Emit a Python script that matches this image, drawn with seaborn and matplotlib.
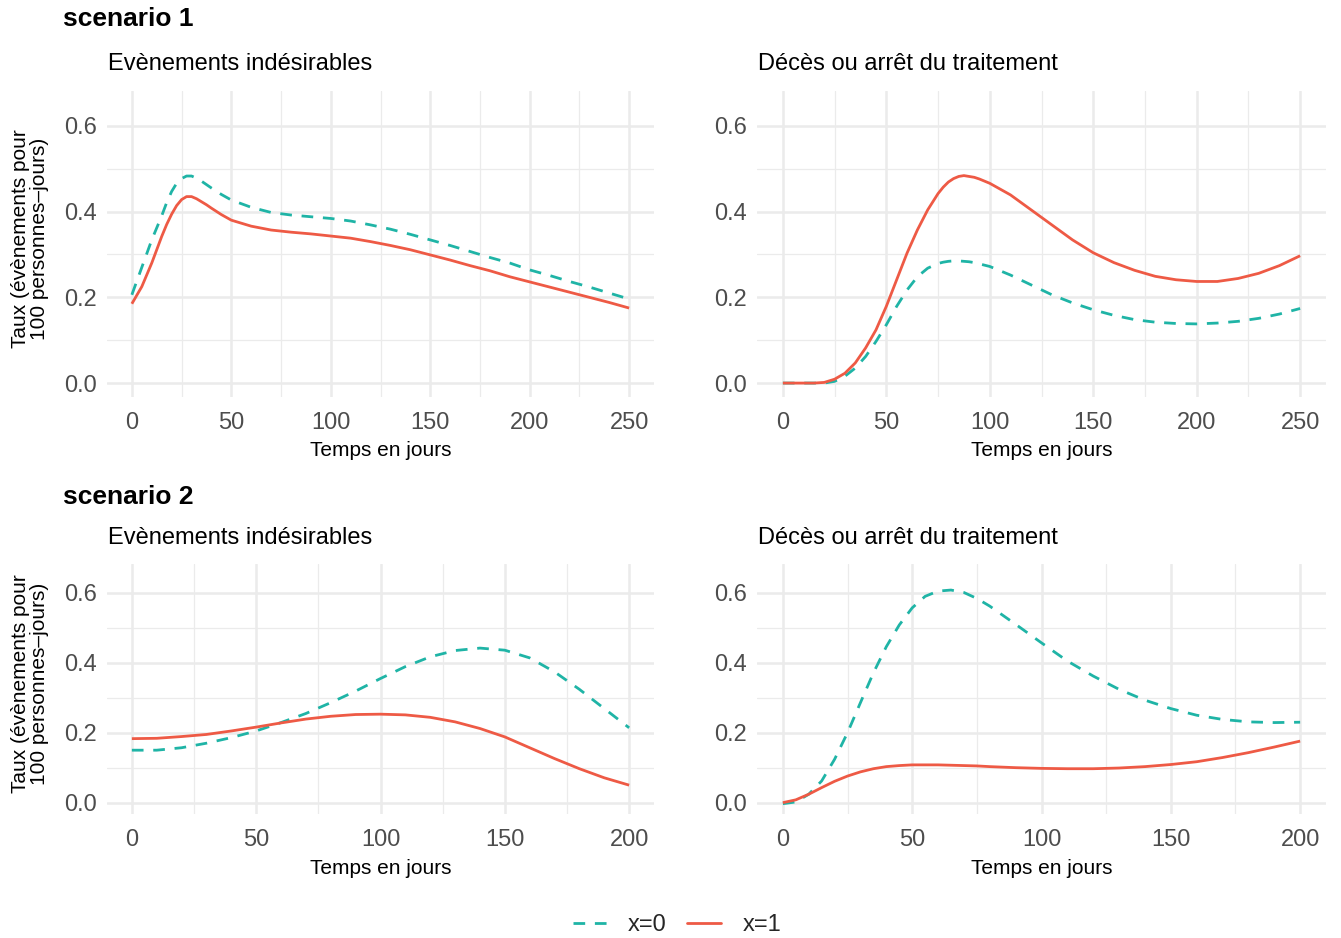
import numpy as np
import pandas as pd
import matplotlib
matplotlib.use("Agg")
import matplotlib.pyplot as plt
from matplotlib.lines import Line2D
from matplotlib.ticker import MultipleLocator
import seaborn as sns

# ---------------- data ----------------
# Scenario 1 - Evènements indésirables
t_s1_ae = [0, 5, 10, 15, 17.5, 20, 22.5, 25, 27.5, 30, 32.5, 35, 37.5, 40, 45, 50, 60,
           70, 80, 90, 100, 110, 120, 130, 140, 150, 160, 170, 180, 190, 200, 210, 220,
           230, 240, 250]
s1_ae_x0 = [0.206, 0.270, 0.334, 0.390, 0.421, 0.447, 0.466, 0.477, 0.483, 0.483, 0.478,
            0.471, 0.463, 0.455, 0.440, 0.427, 0.410, 0.398, 0.392, 0.388, 0.384, 0.378,
            0.369, 0.359, 0.347, 0.334, 0.321, 0.307, 0.293, 0.280, 0.264, 0.251, 0.237,
            0.224, 0.210, 0.196]
s1_ae_x1 = [0.185, 0.225, 0.280, 0.342, 0.370, 0.394, 0.414, 0.428, 0.435, 0.435, 0.430,
            0.423, 0.416, 0.408, 0.393, 0.380, 0.366, 0.357, 0.352, 0.348, 0.343, 0.338,
            0.330, 0.321, 0.311, 0.299, 0.287, 0.274, 0.262, 0.248, 0.236, 0.224, 0.212,
            0.200, 0.188, 0.175]

# Scenario 1 - Décès ou arrêt du traitement
t_s1_dc = [0, 5, 10, 15, 20, 25, 30, 35, 40, 45, 50, 55, 60, 65, 70, 75, 77.5, 80, 82.5,
           85, 87.5, 90, 92.5, 95, 97.5, 100, 110, 120, 130, 140, 150, 160, 170, 180,
           190, 200, 210, 220, 230, 240, 250]
s1_dc_x0 = [0.0, 0.0, 0.0, 0.0, 0.0, 0.004, 0.016, 0.035, 0.062, 0.097, 0.136, 0.179,
            0.217, 0.248, 0.268, 0.279, 0.282, 0.284, 0.285, 0.285, 0.284, 0.283, 0.281,
            0.278, 0.275, 0.272, 0.252, 0.229, 0.206, 0.187, 0.171, 0.158, 0.148, 0.142,
            0.139, 0.138, 0.140, 0.144, 0.151, 0.161, 0.174]
s1_dc_x1 = [0.0, 0.0, 0.0, 0.0, 0.0015, 0.009, 0.023, 0.047, 0.082, 0.124, 0.179, 0.241,
            0.303, 0.357, 0.404, 0.442, 0.457, 0.469, 0.477, 0.482, 0.484, 0.482, 0.480,
            0.476, 0.471, 0.466, 0.439, 0.404, 0.369, 0.334, 0.304, 0.281, 0.263, 0.249,
            0.241, 0.237, 0.237, 0.244, 0.256, 0.274, 0.297]

# Scenario 2 - Evènements indésirables
t_s2_ae = [0, 10, 20, 30, 40, 50, 60, 70, 80, 90, 100, 110, 120, 130, 140, 150, 160,
           170, 180, 190, 200]
s2_ae_x0 = [0.150, 0.150, 0.157, 0.170, 0.186, 0.205, 0.229, 0.255, 0.286, 0.319, 0.355,
            0.389, 0.417, 0.435, 0.442, 0.436, 0.414, 0.374, 0.324, 0.269, 0.214]
s2_ae_x1 = [0.183, 0.184, 0.189, 0.195, 0.205, 0.216, 0.228, 0.239, 0.247, 0.252, 0.253,
            0.251, 0.244, 0.231, 0.212, 0.188, 0.157, 0.126, 0.097, 0.071, 0.050]

# Scenario 2 - Décès ou arrêt du traitement
t_s2_dc = [0, 5, 10, 15, 20, 25, 30, 35, 40, 45, 50, 55, 60, 65, 70, 75, 80, 90, 100,
           110, 120, 130, 140, 150, 160, 170, 180, 190, 200]
s2_dc_x0 = [-0.003, 0.002, 0.024, 0.062, 0.124, 0.200, 0.286, 0.371, 0.446, 0.508, 0.557,
            0.590, 0.605, 0.608, 0.601, 0.584, 0.562, 0.510, 0.457, 0.405, 0.362, 0.324,
            0.293, 0.269, 0.250, 0.238, 0.231, 0.229, 0.230]
s2_dc_x1 = [0.0, 0.008, 0.024, 0.043, 0.061, 0.076, 0.088, 0.097, 0.103, 0.106, 0.108,
            0.108, 0.108, 0.107, 0.106, 0.105, 0.103, 0.100, 0.098, 0.097, 0.097, 0.099,
            0.103, 0.109, 0.117, 0.129, 0.143, 0.159, 0.176]

groups = ["x=0", "x=1"]
scenarios = ["scenario 1", "scenario 2"]
outcomes = ["Evènements indésirables", "Décès ou arrêt du traitement"]
x_label = "Temps en jours"
y_label = "Taux (évènements pour\n100 personnes–jours)"
y_ticks = [0.0, 0.2, 0.4, 0.6]

panels = {
    (0, 0): (t_s1_ae, s1_ae_x0, s1_ae_x1, 250),
    (0, 1): (t_s1_dc, s1_dc_x0, s1_dc_x1, 250),
    (1, 0): (t_s2_ae, s2_ae_x0, s2_ae_x1, 200),
    (1, 1): (t_s2_dc, s2_dc_x0, s2_dc_x1, 200),
}

# ---------------- style ----------------
sns.set_theme(style="white")
plt.rcParams["font.family"] = ["Liberation Sans", "DejaVu Sans"]

teal = "#1FB4A6"
red = "#EE5A45"
palette = {"x=0": teal, "x=1": red}
dash_x0 = (4.2, 3.5)
lw = 2.0

W, H = 1341, 938
fig = plt.figure(figsize=(W / 100, H / 100), dpi=100)
fig.patch.set_facecolor("white")

def fx(px):
    return px / W

def fy(py):
    return 1 - py / H

col_px = [(107, 654), (757, 1326)]
row_px = [(90.5, 397), (564, 814)]

tick_color = "#4D4D4D"
grid_color = "#EBEBEB"

for (r, c), (tt, v0, v1, xmax) in panels.items():
    x0p, x1p = col_px[c]
    y0p, y1p = row_px[r]
    ax = fig.add_axes([fx(x0p), fy(y1p), fx(x1p - x0p), (y1p - y0p) / H])
    df = pd.DataFrame({
        "t": list(tt) * 2,
        "rate": list(v0) + list(v1),
        "group": [groups[0]] * len(tt) + [groups[1]] * len(tt),
    })
    sns.lineplot(data=df, x="t", y="rate", hue="group", style="group",
                 hue_order=groups, style_order=groups, palette=palette,
                 dashes={"x=0": dash_x0, "x=1": ""}, linewidth=lw,
                 legend=False, ax=ax, zorder=3)
    for ln in ax.get_lines():
        ln.set_solid_capstyle("butt")
        ln.set_dash_capstyle("butt")
        ln.set_solid_joinstyle("round")
        ln.set_dash_joinstyle("round")
    pad = xmax * 0.05
    ax.set_xlim(-pad, xmax + pad)
    ax.set_ylim(-0.0325, 0.6825)
    ax.xaxis.set_major_locator(MultipleLocator(50))
    ax.xaxis.set_minor_locator(MultipleLocator(25))
    ax.set_yticks(y_ticks)
    ax.yaxis.set_minor_locator(MultipleLocator(0.1))
    ax.set_yticklabels([f"{v:.1f}" for v in y_ticks])
    ax.grid(which="major", color=grid_color, linewidth=1.8, zorder=0)
    ax.grid(which="minor", color=grid_color, linewidth=0.9, zorder=0)
    ax.set_axisbelow(True)
    for s in ax.spines.values():
        s.set_visible(False)
    ax.tick_params(which="both", length=0)
    ax.tick_params(axis="x", labelsize=17, colors=tick_color, pad=10.5)
    ax.tick_params(axis="y", labelsize=17, colors=tick_color, pad=7)
    ax.set_xlabel("")
    ax.set_ylabel("")
    ax.set_facecolor("white")
    # panel title
    title_y = [64, 538][r]
    fig.text(fx(x0p + 1), fy(title_y), outcomes[c], fontsize=17, color="black",
             ha="left", va="center")
    # x axis title
    fig.text(fx((x0p + x1p) / 2), fy([450.5, 868.5][r]), x_label, fontsize=15,
             color="black", ha="center", va="center")
    if c == 0:
        fig.text(fx(30), fy((y0p + y1p) / 2 - 5), y_label, fontsize=15, color="black",
                 rotation=90, ha="center", va="center", multialignment="center",
                 linespacing=1.0)

for r, s in enumerate(scenarios):
    fig.text(fx(63), fy([18.5, 496.5][r]), s, fontsize=19, fontweight="bold",
             color="black", ha="left", va="center")

handles = [Line2D([0], [0], color=teal, lw=lw, dashes=dash_x0),
           Line2D([0], [0], color=red, lw=lw)]
fig.legend(handles, groups, loc="center", bbox_to_anchor=(fx(677), fy(925)),
           ncol=2, frameon=False, fontsize=17, handlelength=1.45,
           handletextpad=0.9, columnspacing=0.85)

fig.savefig("out.png", dpi=100, facecolor="white")
